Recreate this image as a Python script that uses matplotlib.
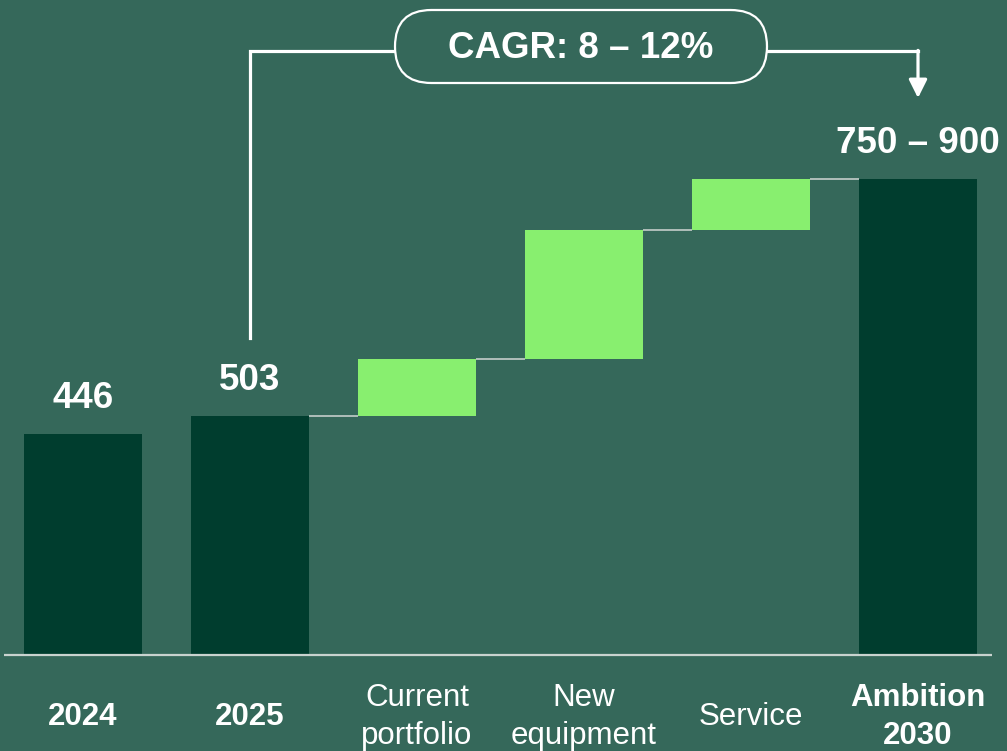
"""Waterfall: 2024 -> 2025 -> growth drivers -> Ambition 2030."""
import matplotlib

matplotlib.use("Agg")
import matplotlib.pyplot as plt
from matplotlib.patches import FancyBboxPatch

plt.rcParams["font.family"] = ["Liberation Sans", "DejaVu Sans"]

# ---- data (bar heights as drawn in the picture, labels as printed) ----
categories = ["2024", "2025", "Current\nportfolio", "New\nequipment",
              "Service", "Ambition\n2030"]
bold_cats = [True, True, False, False, False, True]
start_values = [446, 482]          # the two actual years
increments = [115, 260, 103]       # growth drivers
value_labels = ["446", "503", "750 – 900"]
cagr_text = "CAGR: 8 – 12%"

BG = "#35685A"
DARK = "#003D2E"
LIGHT = "#88EF6F"
CONN = "#C5CDCA"
WHITE = "white"

# px -> data scale (y), baseline of the chart sits at pixel row 655
s = 446 / 221.0
W = 0.707

fig = plt.figure(figsize=(10.07, 7.51), dpi=100, facecolor=BG)
ax = fig.add_axes([0, 0, 1, 1])
ax.set_facecolor(BG)
ax.set_xlim(-83 / 167, (1007 - 83) / 167)
ax.set_ylim(-(751 - 655) * s, 655 * s)
ax.axis("off")

# totals and floating bars
x = list(range(len(categories)))
tops = []
ax.bar(x[:2], start_values, width=W, color=DARK, zorder=2)
tops += start_values
level = start_values[-1]
for i, inc in enumerate(increments):
    ax.bar(x[2 + i], inc, bottom=level, width=W, color=LIGHT, zorder=2)
    level += inc
    tops.append(level)
ax.bar(x[-1], level, width=W, color=DARK, zorder=2)
tops.append(level)

# connectors
for i in range(1, len(x) - 1):
    ax.plot([x[i] + W / 2, x[i + 1] - W / 2], [tops[i], tops[i]],
            color=CONN, lw=1.2, zorder=1, solid_capstyle="butt")

# baseline
ax.hlines(0, -0.473, 5.443, color="#C9D3CF", lw=1.6, zorder=3)

# value labels
for xi, top, lab in zip([x[0], x[1], x[-1]], [tops[0], tops[1], tops[-1]],
                        value_labels):
    ax.text(xi, top + 26 * s, lab, ha="center", va="baseline",
            fontsize=26.5, fontweight="bold", color=WHITE)

# category labels
for xi, cat, b in zip(x, categories, bold_cats):
    ax.text(xi, -62 * s, cat, ha="center", va="center", fontsize=22.5,
            fontweight="bold" if b else "normal", color=WHITE,
            linespacing=1.32)

# CAGR bracket
y_br = (655 - 51) * s
box_l, box_r = (395 - 83) / 167, (767 - 83) / 167
box_b, box_t = (655 - 83) * s, (655 - 10) * s
ax.plot([x[1], x[1], box_l], [(655 - 338) * s, y_br, y_br],
        color=WHITE, lw=2.3, solid_joinstyle="miter", zorder=4)
ax.plot([box_r, x[-1]], [y_br, y_br], color=WHITE, lw=2.3, zorder=4)
ax.annotate("", xy=(x[-1], (655 - 98) * s), xytext=(x[-1], y_br + 0.6 * s),
            arrowprops=dict(arrowstyle="-|>,head_length=1.1,head_width=0.55",
                            color=WHITE, lw=2.3, shrinkA=0, shrinkB=0),
            zorder=4)

aspect = s * 167  # y-units per x-unit for equal pixels
r = (box_t - box_b) / 2 / aspect
box = FancyBboxPatch((box_l, box_b), box_r - box_l, box_t - box_b,
                     boxstyle=f"round,pad=0,rounding_size={r}",
                     mutation_aspect=aspect, facecolor=BG, edgecolor=WHITE,
                     lw=1.6, zorder=5)
ax.add_patch(box)
ax.text((box_l + box_r) / 2, (box_b + box_t) / 2 - 2 * s, cagr_text,
        ha="center", va="center", fontsize=26.5, fontweight="bold",
        color=WHITE, zorder=6)

fig.savefig("out.png", dpi=100, facecolor=BG)
plt.close(fig)
